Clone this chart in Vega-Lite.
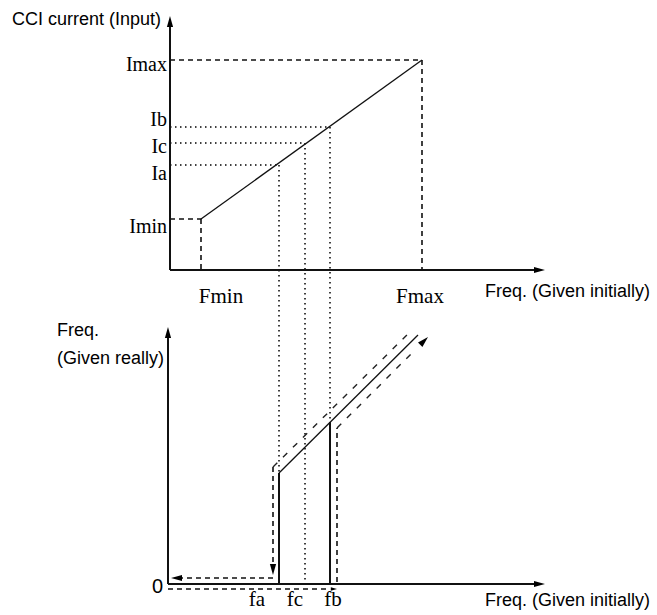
{
  "$schema": "https://vega.github.io/schema/vega-lite/v6.json",
  "width": 657,
  "height": 615,
  "autosize": {"type": "fit", "contains": "padding"},
  "padding": 0,
  "background": "white",
  "config": {"view": {"stroke": null}},
  "datasets": {
    "thick": [
      {"x": 170, "y": 270, "x2": 170, "y2": 24},
      {"x": 170, "y": 270, "x2": 538, "y2": 270},
      {"x": 168, "y": 584, "x2": 168, "y2": 334},
      {"x": 168, "y": 584, "x2": 538, "y2": 584},
      {"x": 279, "y": 584, "x2": 279, "y2": 473},
      {"x": 330, "y": 584, "x2": 330, "y2": 422}
    ],
    "thin": [
      {"x": 201, "y": 219, "x2": 422, "y2": 60},
      {"x": 279, "y": 473, "x2": 418, "y2": 335}
    ],
    "dashed": [
      {"x": 170, "y": 60, "x2": 422, "y2": 60},
      {"x": 422, "y": 60, "x2": 422, "y2": 270},
      {"x": 170, "y": 219, "x2": 201, "y2": 219},
      {"x": 201, "y": 219, "x2": 201, "y2": 270},
      {"x": 273, "y": 467, "x2": 273, "y2": 568},
      {"x": 273, "y": 578, "x2": 180, "y2": 578},
      {"x": 168, "y": 589, "x2": 328, "y2": 589},
      {"x": 337, "y": 582, "x2": 337, "y2": 428}
    ],
    "dashedDiag": [
      {"x": 273, "y": 467, "x2": 411, "y2": 331},
      {"x": 337, "y": 428, "x2": 414, "y2": 351}
    ],
    "dotted": [
      {"x": 170, "y": 127, "x2": 330, "y2": 127},
      {"x": 170, "y": 143, "x2": 305, "y2": 143},
      {"x": 170, "y": 165, "x2": 279, "y2": 165},
      {"x": 279, "y": 165, "x2": 279, "y2": 473},
      {"x": 305, "y": 143, "x2": 305, "y2": 584},
      {"x": 330, "y": 127, "x2": 330, "y2": 422}
    ],
    "arrows": [
      {"x": 170, "y": 16, "dir": "up"},
      {"x": 168, "y": 327, "dir": "up"},
      {"x": 545, "y": 270, "dir": "right"},
      {"x": 545, "y": 584, "dir": "right"},
      {"x": 273, "y": 575, "dir": "down"},
      {"x": 171, "y": 578, "dir": "left"},
      {"x": 428, "y": 337, "dir": "upright"}
    ],
    "smallArrows": [
      {"x": 337, "y": 589, "dir": "right"}
    ],
    "sansLeft": [
      {"x": 12, "y": 25, "label": "CCI current (Input)"},
      {"x": 485, "y": 297, "label": "Freq. (Given initially)"},
      {"x": 57, "y": 336, "label": "Freq."},
      {"x": 57, "y": 364, "label": "(Given really)"},
      {"x": 485, "y": 606, "label": "Freq. (Given initially)"}
    ],
    "sansCenter": [
      {"x": 157.5, "y": 593, "label": "0"}
    ],
    "serifRight": [
      {"x": 167, "y": 71, "label": "Imax"},
      {"x": 167, "y": 126, "label": "Ib"},
      {"x": 167, "y": 153, "label": "Ic"},
      {"x": 167, "y": 180, "label": "Ia"},
      {"x": 167, "y": 233, "label": "Imin"}
    ],
    "serifCenter": [
      {"x": 221, "y": 303, "label": "Fmin"},
      {"x": 420, "y": 303, "label": "Fmax"},
      {"x": 257, "y": 606, "label": "fa"},
      {"x": 295, "y": 606, "label": "fc"},
      {"x": 333, "y": 606, "label": "fb"}
    ]
  },
  "encoding": {
    "x": {"field": "x", "type": "quantitative", "scale": {"domain": [0, 657], "nice": false, "zero": false}, "axis": null},
    "y": {"field": "y", "type": "quantitative", "scale": {"domain": [0, 615], "nice": false, "zero": false, "reverse": true}, "axis": null}
  },
  "layer": [
    {
      "data": {"name": "dotted"},
      "mark": {"type": "rule", "color": "#000", "strokeWidth": 1.5, "strokeDash": [1.5, 3.5]},
      "encoding": {"x2": {"field": "x2"}, "y2": {"field": "y2"}}
    },
    {
      "data": {"name": "dashed"},
      "mark": {"type": "rule", "color": "#111", "strokeWidth": 1.6, "strokeDash": [5, 4]},
      "encoding": {"x2": {"field": "x2"}, "y2": {"field": "y2"}}
    },
    {
      "data": {"name": "dashedDiag"},
      "mark": {"type": "rule", "color": "#222", "strokeWidth": 1.4, "strokeDash": [6, 8]},
      "encoding": {"x2": {"field": "x2"}, "y2": {"field": "y2"}}
    },
    {
      "data": {"name": "thin"},
      "mark": {"type": "rule", "color": "#111", "strokeWidth": 1.3},
      "encoding": {"x2": {"field": "x2"}, "y2": {"field": "y2"}}
    },
    {
      "data": {"name": "thick"},
      "mark": {"type": "rule", "color": "#111", "strokeWidth": 2},
      "encoding": {"x2": {"field": "x2"}, "y2": {"field": "y2"}}
    },
    {
      "data": {"name": "arrows"},
      "transform": [{"filter": "datum.dir === 'up'"}],
      "mark": {"type": "point", "shape": "M0,0L0.45,1.6L-0.45,1.6Z", "size": 190, "filled": true, "color": "#000", "opacity": 1, "angle": 0}
    },
    {
      "data": {"name": "arrows"},
      "transform": [{"filter": "datum.dir === 'right'"}],
      "mark": {"type": "point", "shape": "M0,0L0.45,1.6L-0.45,1.6Z", "size": 190, "filled": true, "color": "#000", "opacity": 1, "angle": 90}
    },
    {
      "data": {"name": "arrows"},
      "transform": [{"filter": "datum.dir === 'down'"}],
      "mark": {"type": "point", "shape": "M0,0L0.45,1.6L-0.45,1.6Z", "size": 190, "filled": true, "color": "#000", "opacity": 1, "angle": 180}
    },
    {
      "data": {"name": "arrows"},
      "transform": [{"filter": "datum.dir === 'left'"}],
      "mark": {"type": "point", "shape": "M0,0L0.45,1.6L-0.45,1.6Z", "size": 190, "filled": true, "color": "#000", "opacity": 1, "angle": 270}
    },
    {
      "data": {"name": "arrows"},
      "transform": [{"filter": "datum.dir === 'upright'"}],
      "mark": {"type": "point", "shape": "M0,0L0.45,1.6L-0.45,1.6Z", "size": 190, "filled": true, "color": "#000", "opacity": 1, "angle": 45}
    },
    {
      "data": {"name": "smallArrows"},
      "mark": {"type": "point", "shape": "M0,0L0.45,1.6L-0.45,1.6Z", "size": 60, "filled": true, "color": "#000", "opacity": 1, "angle": 90}
    },
    {
      "data": {"name": "sansLeft"},
      "mark": {"type": "text", "align": "left", "baseline": "alphabetic", "font": "Liberation Sans", "fontSize": 18, "color": "#000"},
      "encoding": {"text": {"field": "label"}}
    },
    {
      "data": {"name": "sansCenter"},
      "mark": {"type": "text", "align": "center", "baseline": "alphabetic", "font": "Liberation Sans", "fontSize": 20, "color": "#000"},
      "encoding": {"text": {"field": "label"}}
    },
    {
      "data": {"name": "serifRight"},
      "mark": {"type": "text", "align": "right", "baseline": "alphabetic", "font": "Liberation Serif", "fontSize": 20, "letterSpacing": 2, "color": "#000"},
      "encoding": {"text": {"field": "label"}}
    },
    {
      "data": {"name": "serifCenter"},
      "mark": {"type": "text", "align": "center", "baseline": "alphabetic", "font": "Liberation Serif", "fontSize": 21, "letterSpacing": 2, "color": "#000"},
      "encoding": {"text": {"field": "label"}}
    }
  ]
}
